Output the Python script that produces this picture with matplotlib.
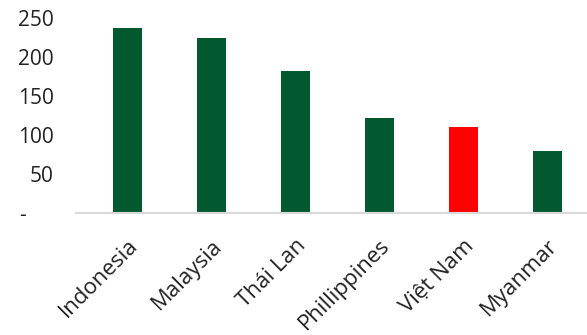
import matplotlib.pyplot as plt

countries = ["Indonesia", "Malaysia", "Thái Lan", "Phillippines", "Việt Nam", "Myanmar"]
values = [237, 224, 182, 122, 110, 80]
colors = ["#03592F", "#03592F", "#03592F", "#03592F", "#FF0000", "#03592F"]
yticks = [0, 50, 100, 150, 200, 250]
ytick_labels = ["-     ", "50", "100", "150", "200", "250"]

plt.rcParams['font.family'] = ['Open Sans', 'DejaVu Sans']

fig = plt.figure(figsize=(5.87, 3.35), dpi=100)
ax = fig.add_axes([0.129, 0.364, 0.871, 0.582])

x = range(len(countries))
ax.bar(x, values, width=0.34, color=colors)

ax.set_ylim(0, 250)
ax.set_xlim(-0.613, 5.47)
ax.set_yticks(yticks)
ax.set_yticklabels(ytick_labels, fontsize=15, color="#222222")
ax.set_xticks(list(x))
ax.set_xticklabels(countries, fontsize=16, color="#222222",
                   rotation=45, ha="right", rotation_mode="anchor")

for s in ["top", "right", "left"]:
    ax.spines[s].set_visible(False)
ax.spines["bottom"].set_color("#d9d9d9")
ax.spines["bottom"].set_linewidth(1.5)
ax.tick_params(axis="both", length=0)
ax.tick_params(axis="y", pad=16)
ax.tick_params(axis="x", pad=16)

fig.savefig("out.png", dpi=100)
